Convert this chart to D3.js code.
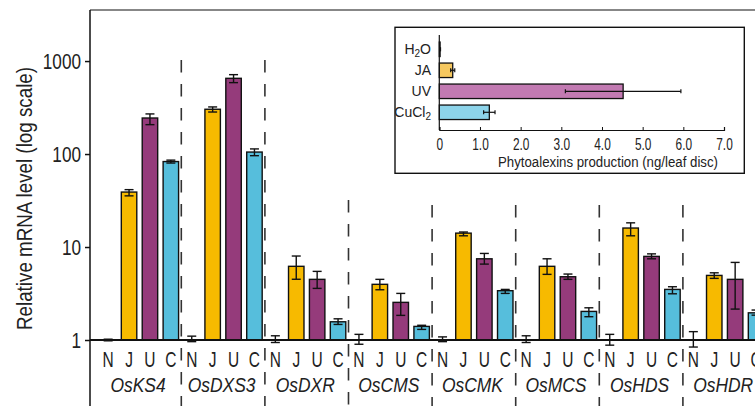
<!DOCTYPE html>
<html>
<head>
<meta charset="utf-8">
<script src="https://cdn.jsdelivr.net/npm/d3@7"></script>
<style>
  body { margin: 0; background: #fff; }
  svg text { font-family: "Liberation Sans", Arial, sans-serif; fill: #222; }
</style>
</head>
<body>
<div id="chart"></div>
<script>
// genes and treatments (N = none/H2O, J = JA, U = UV, C = CuCl2)
var genes = ["OsKS4", "OsDXS3", "OsDXR", "OsCMS", "OsCMK", "OsMCS", "OsHDS", "OsHDR"]
var treatments = ["N", "J", "U", "C"]

// relative mRNA level, mean and error bar low / high
var meanN = [1, 1, 1, 1, 1, 1, 1, 1]
var lowN  = [0.98, 0.96, 0.94, 0.9, 0.96, 0.94, 0.88, 0.84]
var highN = [1.02, 1.1, 1.11, 1.15, 1.08, 1.11, 1.15, 1.23]

var meanJ = [39, 303, 6.2, 3.97, 14.1, 6.2, 16, 4.95]
var lowJ  = [35.5, 283, 4.5, 3.47, 13.2, 5.08, 13.2, 4.6]
var highJ = [41.4, 321, 8.0, 4.49, 14.5, 7.47, 18.2, 5.28]

var meanU = [244, 652, 4.49, 2.54, 7.47, 4.79, 7.93, 4.49]
var lowU  = [207, 586, 3.59, 1.84, 6.55, 4.49, 7.47, 2.15]
var highU = [270, 714, 5.47, 3.17, 8.53, 5.12, 8.44, 6.83]

var meanC = [83, 105, 1.57, 1.4, 3.39, 2.03, 3.5, 1.96]
var lowC  = [80, 96, 1.47, 1.3, 3.17, 1.78, 3.14, 1.85]
var highC = [86, 113.5, 1.69, 1.44, 3.5, 2.22, 3.74, 2.1]

var yTicks = [1, 10, 100, 1000]

// inset: phytoalexins production
var insetCats = ["H2O", "JA", "UV", "CuCl2"]
var insetMean = [0.02, 0.33, 4.52, 1.23]
var insetErr  = [0.01, 0.05, 1.42, 0.14]
var insetTicks = [0, 1, 2, 3, 4, 5, 6, 7]

var colors = { N: "#ffffff", J: "#f7ba00", U: "#953b7b", C: "#56bedc" }
var insetColors = ["#ffffff", "#f6c85f", "#c27ab2", "#8dd4ea"]

var W = 755, H = 406

var svg = d3.select("#chart").append("svg")
    .attr("width", W)
    .attr("height", H)

// squeeze text sideways, the original font is a condensed one
function condense(sel, k) {
  sel.each(function () {
    var w = this.getComputedTextLength()
    d3.select(this).attr("textLength", w * k).attr("lengthAdjust", "spacingAndGlyphs")
  })
}

var rows = []
var src = { N: [meanN, lowN, highN], J: [meanJ, lowJ, highJ], U: [meanU, lowU, highU], C: [meanC, lowC, highC] }
genes.forEach(function (g, i) {
  treatments.forEach(function (t) {
    rows.push({ gene: g, t: t, v: src[t][0][i], lo: src[t][1][i], hi: src[t][2][i] })
  })
})

var y = d3.scaleLog().domain([1, 3540]).range([340, 10])
var xg = d3.scaleBand().domain(genes).range([97.7, 766.5]).padding(0)
var xt = d3.scaleBand().domain(treatments).range([0, xg.bandwidth()])
    .paddingInner(0.26).paddingOuter(0.13)

// frame: left axis line and top line
svg.append("line").attr("x1", 90).attr("x2", 90).attr("y1", 10).attr("y2", H)
    .attr("stroke", "#111").attr("stroke-width", 1.5)
svg.append("line").attr("x1", 90).attr("x2", W).attr("y1", 10).attr("y2", 10)
    .attr("stroke", "#111").attr("stroke-width", 1.2)

// y ticks
var yAxis = svg.append("g").attr("transform", "translate(90,0)")
    .call(d3.axisLeft(y).tickValues(yTicks).tickFormat(d3.format("d")).tickSize(5).tickPadding(4))
yAxis.select(".domain").remove()
yAxis.selectAll("line").attr("stroke", "#111").attr("stroke-width", 1.5)
yAxis.selectAll("text").attr("font-size", 22).attr("font-family", null).style("fill", "#222")
    .call(condense, 0.78)

svg.append("text")
    .attr("transform", "translate(32,198.5) rotate(-90)")
    .attr("text-anchor", "middle")
    .attr("font-size", 22)
    .attr("textLength", 263).attr("lengthAdjust", "spacingAndGlyphs")
    .text("Relative mRNA level (log scale)")

// dashed separators between genes
var sepStart = [60, 60, 200, 205, 205, 205, 205]
svg.selectAll(".sep").data(genes.slice(1)).enter().append("line")
    .attr("class", "sep")
    .attr("x1", function (d) { return xg(d) }).attr("x2", function (d) { return xg(d) })
    .attr("y1", function (d, i) { return sepStart[i] }).attr("y2", H)
    .attr("stroke", "#333").attr("stroke-width", 1.6)
    .attr("stroke-dasharray", "12.5,11.5")

// bars
var bar = svg.selectAll(".bar").data(rows).enter().append("g")
    .attr("transform", function (d) { return "translate(" + (xg(d.gene) + xt(d.t)) + ",0)" })

bar.append("rect")
    .attr("width", xt.bandwidth())
    .attr("y", function (d) { return y(d.v) })
    .attr("height", function (d) { return y(1) - y(d.v) })
    .attr("fill", function (d) { return colors[d.t] })
    .attr("stroke", "#111").attr("stroke-width", 1.4)

// error bars
var cx = xt.bandwidth() / 2
bar.append("line")
    .attr("x1", cx).attr("x2", cx)
    .attr("y1", function (d) { return y(d.lo) }).attr("y2", function (d) { return y(d.hi) })
    .attr("stroke", "#111").attr("stroke-width", 1.4)
bar.append("line")
    .attr("x1", cx - 4.5).attr("x2", cx + 4.5)
    .attr("y1", function (d) { return y(d.lo) }).attr("y2", function (d) { return y(d.lo) })
    .attr("stroke", "#111").attr("stroke-width", 1.4)
bar.append("line")
    .attr("x1", cx - 4.5).attr("x2", cx + 4.5)
    .attr("y1", function (d) { return y(d.hi) }).attr("y2", function (d) { return y(d.hi) })
    .attr("stroke", "#111").attr("stroke-width", 1.4)

// x axis line
svg.append("line").attr("x1", 90).attr("x2", W).attr("y1", y(1)).attr("y2", y(1))
    .attr("stroke", "#111").attr("stroke-width", 2.2)

// treatment letters and gene names
bar.append("text")
    .attr("x", cx).attr("y", 366.5)
    .attr("text-anchor", "middle")
    .attr("font-size", 21.5)
    .text(function (d) { return d.t })
    .call(condense, 0.72)

svg.selectAll(".gname").data(genes).enter().append("text")
    .attr("x", function (d) { return xg(d) + xg.bandwidth() / 2 - 1.5 })
    .attr("y", 391.5)
    .attr("text-anchor", "middle")
    .attr("font-size", 21)
    .attr("font-style", "italic")
    .text(function (d) { return d })
    .call(condense, 0.83)

// ---- inset ----
var inset = svg.append("g")
inset.append("rect").attr("x", 395).attr("y", 27.3).attr("width", 349.3).attr("height", 146)
    .attr("fill", "#fff").attr("stroke", "#111").attr("stroke-width", 1.4)

var ix = d3.scaleLinear().domain([0, 7]).range([439.3, 724])
var iy = d3.scaleBand().domain(insetCats).range([38.8, 122.8]).paddingInner(0.31).paddingOuter(0.155)

inset.selectAll(".ibar").data(insetCats).enter().append("rect")
    .attr("x", ix(0))
    .attr("y", function (d) { return iy(d) })
    .attr("width", function (d, i) { return ix(insetMean[i]) - ix(0) })
    .attr("height", iy.bandwidth())
    .attr("fill", function (d, i) { return insetColors[i] })
    .attr("stroke", "#111").attr("stroke-width", 1.3)

inset.selectAll(".ierr").data(insetCats).enter().append("g")
    .each(function (d, i) {
      var g = d3.select(this)
      var cy = iy(d) + iy.bandwidth() / 2
      var x0 = ix(insetMean[i] - insetErr[i]), x1 = ix(insetMean[i] + insetErr[i])
      g.append("line").attr("x1", x0).attr("x2", x1).attr("y1", cy).attr("y2", cy)
          .attr("stroke", "#111").attr("stroke-width", 1.2)
      g.append("line").attr("x1", x0).attr("x2", x0).attr("y1", cy - 2).attr("y2", cy + 2)
          .attr("stroke", "#111").attr("stroke-width", 1.2)
      g.append("line").attr("x1", x1).attr("x2", x1).attr("y1", cy - 2).attr("y2", cy + 2)
          .attr("stroke", "#111").attr("stroke-width", 1.2)
    })

// inset axes
inset.append("line").attr("x1", ix(0)).attr("x2", ix(0)).attr("y1", 35).attr("y2", 130)
    .attr("stroke", "#111").attr("stroke-width", 1.2)
var ixAxis = inset.append("g").attr("transform", "translate(0,130)")
    .call(d3.axisTop(ix).tickValues(insetTicks).tickSize(3).tickFormat(function (d) { return d === 0 ? "0" : d3.format(".1f")(d) }))
ixAxis.select(".domain").attr("stroke", "#111").attr("stroke-width", 1.2)
ixAxis.selectAll("line").attr("stroke", "#111")
ixAxis.selectAll("text").attr("y", 19.5).attr("font-size", 16.5).attr("font-family", null).style("fill", "#222")
    .call(condense, 0.72)

inset.append("text").attr("x", 608).attr("y", 166.5).attr("text-anchor", "middle")
    .attr("font-size", 15.5)
    .attr("textLength", 220).attr("lengthAdjust", "spacingAndGlyphs")
    .text("Phytoalexins production (ng/leaf disc)")

// category labels with subscripts
inset.selectAll(".ilab").data(insetCats).enter().append("text")
    .attr("x", 431)
    .attr("y", function (d) { return iy(d) + iy.bandwidth() / 2 + 5 })
    .attr("text-anchor", "end")
    .attr("font-size", 14)
    .each(function (d) {
      var t = d3.select(this)
      var m = d.match(/^([A-Za-z]+)(\d)?([A-Za-z]*)$/)
      t.append("tspan").text(m[1])
      if (m[2]) {
        t.append("tspan").attr("font-size", 10).attr("dy", 3).text(m[2])
        if (m[3]) t.append("tspan").attr("dy", -3).text(m[3])
      }
    })
</script>
</body>
</html>
